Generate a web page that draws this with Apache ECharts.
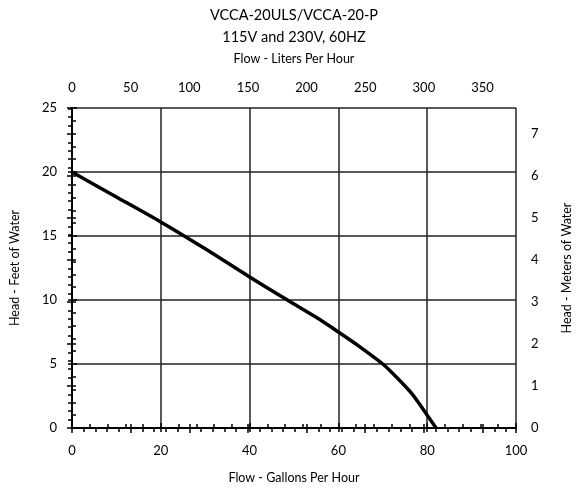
<!DOCTYPE html>
<html>
<head>
<meta charset="utf-8">
<script src="https://cdn.jsdelivr.net/npm/echarts@6/dist/echarts.min.js"></script>
<style>html,body{margin:0;padding:0;background:#fff}#c{width:576px;height:489px}</style>
</head>
<body>
<div id="c"></div>
<script>
var titleLines = ['VCCA-20ULS/VCCA-20-P', '115V and 230V, 60HZ'];
var xNameBottom = 'Flow - Gallons Per Hour';
var xNameTop = 'Flow - Liters Per Hour';
var yNameLeft = 'Head - Feet of Water';
var yNameRight = 'Head - Meters of Water';
// flow in gallons per hour
var flowGph = [0, 10, 20, 30, 40, 48.5, 55, 60, 65, 70, 73, 76.5, 80, 82];
// head in feet of water
var headFt = [20, 18.05, 16.1, 14.0, 11.8, 10, 8.65, 7.5, 6.3, 5, 4, 2.7, 1, 0];
var GAL_TO_L = 3.78541;
var FT_TO_M = 0.3048;
var gphMax = 100, ftMax = 25;

var font = 'Lato';
var black = '#000';
var lbl = {color: black, fontFamily: font, fontSize: 13};
var nameStyle = {color: black, fontFamily: font, fontSize: 12.5};

var chart = echarts.init(document.getElementById('c'), null, {renderer: 'canvas'});
var data = flowGph.map(function (g, i) { return [g, headFt[i]]; });

chart.setOption({
  animation: false,
  backgroundColor: '#fff',
  title: {
    text: titleLines.join('\n'),
    left: 294, top: 4, padding: 0, textAlign: 'center',
    textStyle: {color: black, fontFamily: font, fontSize: 14.5, fontWeight: 'normal', lineHeight: 22}
  },
  grid: {left: 72, right: 60, top: 108, bottom: 61, containLabel: false, outerBoundsMode: 'none'},
  xAxis: [
    {type: 'value', position: 'bottom', min: 0, max: gphMax, interval: 20,
     name: xNameBottom, nameLocation: 'middle', nameGap: 43, nameTextStyle: nameStyle,
     axisLine: {lineStyle: {color: black, width: 2}},
     axisTick: {inside: true, length: 5, lineStyle: {color: black, width: 1.5}},
     minorTick: {show: true, splitNumber: 5, length: 4, lineStyle: {color: black, width: 1.5}},
     axisLabel: Object.assign({margin: 16}, lbl),
     splitLine: {show: true, lineStyle: {color: '#222', width: 1.5}}},
    {type: 'value', position: 'bottom', min: 0, max: gphMax, interval: 20,
     axisLine: {show: false}, axisLabel: {show: false}, splitLine: {show: false},
     axisTick: {inside: false, length: 4, lineStyle: {color: black, width: 1.5}}},
    {type: 'value', position: 'top', min: 0, max: gphMax * GAL_TO_L, interval: 50,
     name: xNameTop, nameLocation: 'middle', nameGap: 43, nameTextStyle: nameStyle,
     axisLine: {lineStyle: {color: black, width: 2}},
     axisTick: {inside: false, length: 4, lineStyle: {color: black, width: 1.5}},
     axisLabel: Object.assign({margin: 14, showMaxLabel: false,
       formatter: function (v) { return (Math.abs(v % 50) < 1e-6) ? String(Math.round(v)) : ''; }}, lbl),
     splitLine: {show: false}},
    {type: 'value', position: 'top', min: 0, max: gphMax * GAL_TO_L, interval: 10,
     axisLine: {show: false}, axisLabel: {show: false}, splitLine: {show: false},
     axisTick: {inside: true, length: 4, lineStyle: {color: black, width: 1.5}}},
    {type: 'value', position: 'top', min: 0, max: gphMax * GAL_TO_L, interval: 50,
     axisLine: {show: false}, axisLabel: {show: false}, splitLine: {show: false},
     axisTick: {inside: true, length: 5, lineStyle: {color: black, width: 1.5}}}
  ],
  yAxis: [
    {type: 'value', position: 'left', min: 0, max: ftMax, interval: 5,
     name: yNameLeft, nameLocation: 'middle', nameGap: 51, nameTextStyle: nameStyle,
     axisLine: {lineStyle: {color: black, width: 2}},
     axisTick: {inside: true, length: 5, lineStyle: {color: black, width: 1.5}},
     minorTick: {show: true, splitNumber: 5, length: 4, lineStyle: {color: black, width: 1.5}},
     axisLabel: Object.assign({margin: 15}, lbl),
     splitLine: {show: true, lineStyle: {color: '#222', width: 1.5}}},
    {type: 'value', position: 'left', min: 0, max: ftMax, interval: 5,
     axisLine: {show: false}, axisLabel: {show: false}, splitLine: {show: false},
     axisTick: {inside: false, length: 4, lineStyle: {color: black, width: 1.5}}},
    {type: 'value', position: 'right', min: 0, max: ftMax * FT_TO_M, interval: 1,
     name: yNameRight, nameLocation: 'middle', nameGap: 44, nameTextStyle: nameStyle,
     axisLine: {lineStyle: {color: black, width: 2}},
     axisTick: {inside: false, length: 4, lineStyle: {color: black, width: 1.5}},
     axisLabel: Object.assign({margin: 15, showMaxLabel: false,
       formatter: function (v) { return (Math.abs(v - Math.round(v)) < 1e-6) ? String(Math.round(v)) : ''; }}, lbl),
     splitLine: {show: false}},
    {type: 'value', position: 'right', min: 0, max: ftMax * FT_TO_M, interval: 0.2,
     axisLine: {show: false}, axisLabel: {show: false}, splitLine: {show: false},
     axisTick: {inside: true, length: 4, lineStyle: {color: black, width: 1.5}}},
    {type: 'value', position: 'right', min: 0, max: ftMax * FT_TO_M, interval: 1,
     axisLine: {show: false}, axisLabel: {show: false}, splitLine: {show: false},
     axisTick: {inside: true, length: 5, lineStyle: {color: black, width: 1.5}}}
  ],
  series: [{
    type: 'line', xAxisIndex: 0, yAxisIndex: 0, data: data,
    smooth: 0.3, showSymbol: false, symbol: 'none',
    lineStyle: {color: black, width: 3.5}
  }]
});
</script>
</body>
</html>
